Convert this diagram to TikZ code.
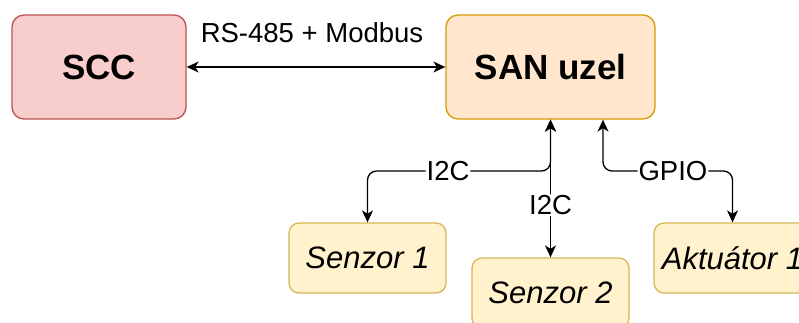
\documentclass[tikz,border=0pt]{standalone}
\usepackage{fontspec}
\setmainfont{Liberation Sans}
\usetikzlibrary{arrows.meta}
\definecolor{sccfill}{HTML}{F8CECC}
\definecolor{sccline}{HTML}{B85450}
\definecolor{sanfill}{HTML}{FFE6CC}
\definecolor{sanline}{HTML}{D79B00}
\definecolor{senfill}{HTML}{FFF2CC}
\definecolor{senline}{HTML}{D6B656}
\tikzset{
  box/.style={draw, line width=1.3pt, rounded corners=12pt, inner sep=0pt, align=center},
  big/.style={box, minimum width=174pt, minimum height=104pt, font=\fontsize{35}{42}\selectfont\bfseries},
  small/.style={box, rounded corners=10pt, minimum width=157pt, minimum height=70pt, fill=senfill, draw=senline, font=\fontsize{31}{37}\selectfont\itshape},
  bi/.style={line width=1.3pt, {Stealth[length=12pt,width=11pt,inset=3.5pt]}-{Stealth[length=12pt,width=11pt,inset=3.5pt]}, rounded corners=9pt},
  lbl/.style={fill=white, inner sep=1pt, font=\fontsize{27.5}{32}\selectfont}
}
\begin{document}
\begin{tikzpicture}[x=1pt,y=-1pt]
\clip (0,0) rectangle (799,322);
\node[big, fill=sccfill, draw=sccline] (scc) at (99,67) {SCC};
\node[big, fill=sanfill, draw=sanline, minimum width=209pt] (san) at (550.5,67) {SAN uzel};
\node[small] (s1) at (367.5,258) {Senzor 1};
\node[small] (s2) at (550.5,293) {Senzor 2};
\node[small] (a1) at (732.5,258) {Aktuátor 1};
\draw[bi] (scc.east) -- (san.west);
\node[lbl] (rs) at (312,33) {RS-485 + Modbus};
\draw[bi] (san.south) -- (san.south |- 0,171) -| node[lbl, pos=0.28] (l1) {I2C} (s1.north);
\draw[bi] (san.south) -- node[lbl, pos=0.62] (l2) {I2C} (s2.north);
\draw[bi] ([xshift=52.5pt]san.south) -- ([xshift=52.5pt]san.south |- 0,171) -| node[lbl, pos=0.27] (l3) {GPIO} (a1.north);
\end{tikzpicture}
\end{document}
